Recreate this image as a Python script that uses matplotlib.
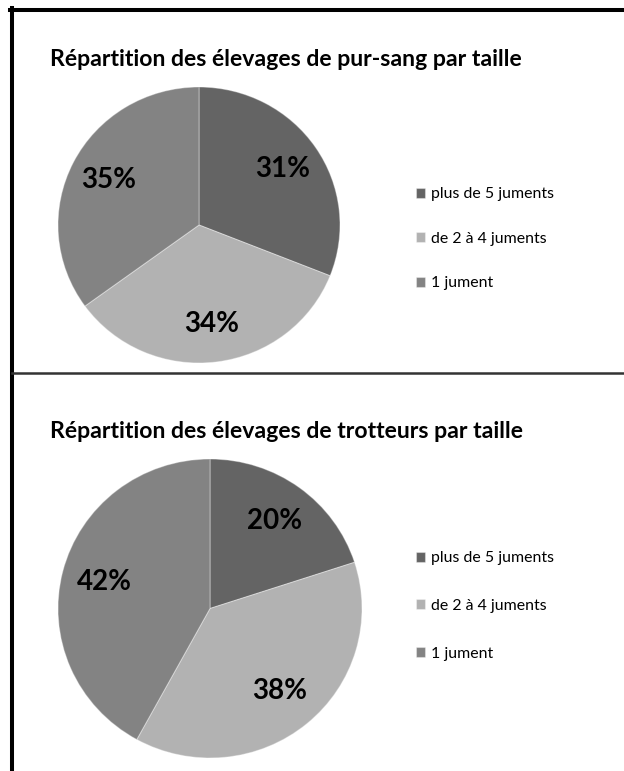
import matplotlib
matplotlib.use("Agg")
import matplotlib.pyplot as plt
from matplotlib.lines import Line2D

plt.rcParams['font.family'] = ['Lato', 'DejaVu Sans']

categories = ["plus de 5 juments", "de 2 à 4 juments", "1 jument"]
pur_sang = [31, 34, 35]
trotteurs = [20, 38, 42]
titles = ["Répartition des élevages de pur-sang par taille",
          "Répartition des élevages de trotteurs par taille"]
colors = ["#646464", "#b2b2b2", "#838383"]

W, H = 624, 771
fig = plt.figure(figsize=(W / 100, H / 100), dpi=100)
fig.patch.set_facecolor("white")

def fx(px):
    return px / W

def fy(py):
    return 1 - py / H

# frame lines
fig.add_artist(Line2D([fx(10), 1], [fy(9.5), fy(9.5)], color="black", lw=2.9, transform=fig.transFigure))
fig.add_artist(Line2D([fx(12), fx(12)], [0, fy(8)], color="black", lw=2.9, transform=fig.transFigure))
fig.add_artist(Line2D([fx(12), 1], [fy(372.5), fy(372.5)], color="#333333", lw=1.8, transform=fig.transFigure))

panels = [
    dict(data=pur_sang, title=titles[0], title_y=60, box=(58, 87, 340, 363), leg_y=179.5, spacing=1.92),
    dict(data=trotteurs, title=titles[1], title_y=432, box=(58, 459, 362, 758), leg_y=543.5, spacing=2.12),
]

for p in panels:
    x0, y0, x1, y1 = p["box"]
    ax = fig.add_axes([fx(x0), fy(y1), (x1 - x0) / W, (y1 - y0) / H])
    wedges, _, autotexts = ax.pie(
        p["data"], colors=colors, startangle=90, counterclock=False,
        autopct="%1.0f%%", pctdistance=0.72,
        wedgeprops=dict(edgecolor=(1, 1, 1, 0.35), linewidth=0.8),
        textprops=dict(fontsize=20, fontweight="bold", color="black"),
    )
    ax.set_aspect("auto")
    ax.set_xlim(-1, 1)
    ax.set_ylim(-1, 1)
    ax.axis("off")
    fig.text(fx(50), fy(p["title_y"]), p["title"], fontsize=16.6, fontweight="bold",
             ha="left", va="center", color="black")
    fig.legend(wedges, categories, loc="upper left",
               bbox_to_anchor=(fx(408), fy(p["leg_y"])), frameon=False,
               fontsize=11.4, handlelength=0.6, handleheight=0.6,
               handletextpad=0.35, labelspacing=p["spacing"], borderpad=0)

fig.savefig("out.png", dpi=100, facecolor="white")
